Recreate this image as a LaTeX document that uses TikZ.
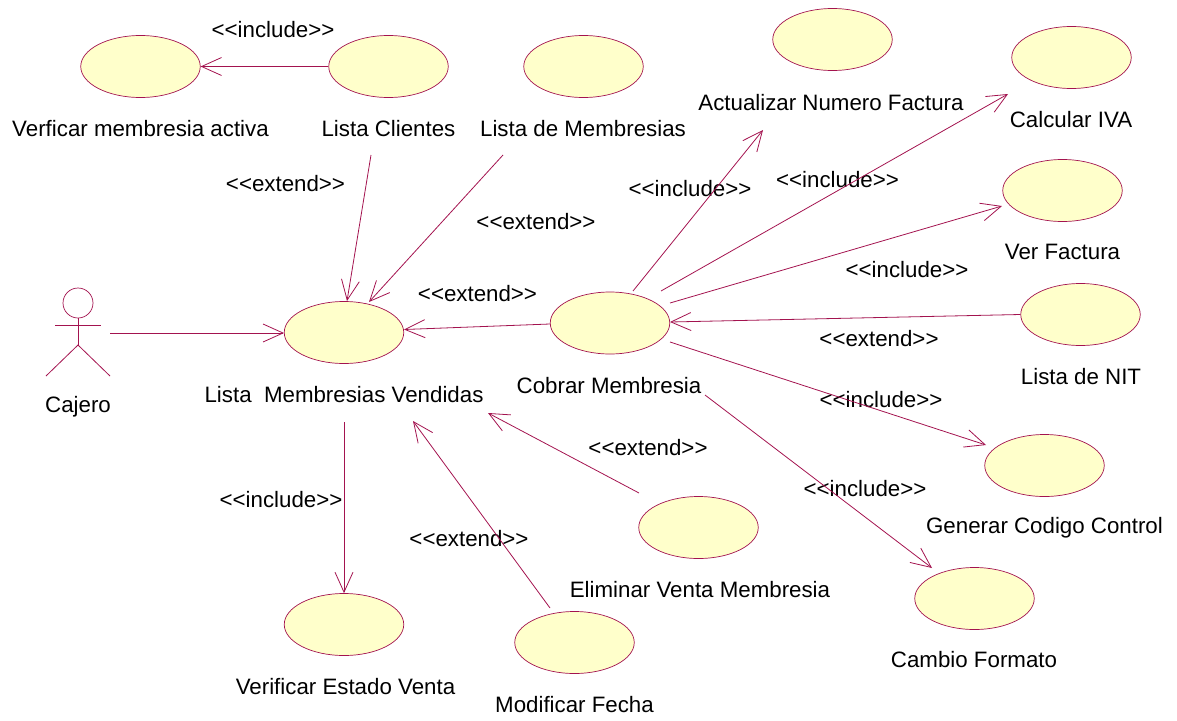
\documentclass[tikz,border=0pt]{standalone}
\usepackage{fontspec}
\setmainfont{Liberation Sans}
\usetikzlibrary{arrows.meta,shapes.geometric}
\definecolor{umlline}{HTML}{A3134F}
\definecolor{umlfill}{HTML}{FFFFCB}
\tikzset{
  usecase/.style={ellipse,draw=umlline,fill=umlfill,line width=0.7pt,minimum width=119.5pt,minimum height=62pt,inner sep=0pt},
  lbl/.style={inner sep=0pt,font=\fontsize{22.3}{26}\selectfont,text=black,anchor=center},
  conn/.style={draw=umlline,line width=0.8pt,-{Straight Barb[length=20pt,width=18pt,line width=0.8pt]}},
  stick/.style={draw=umlline,line width=0.8pt}
}
\begin{document}
\begin{tikzpicture}[x=1pt,y=-1pt]
\useasboundingbox (0,0) rectangle (1177,720);
% use cases
\node[usecase] (verf) at (140.5,66.5) {};
\node[usecase] (clientes) at (388.5,66.5) {};
\node[usecase] (membresias) at (583.5,66.5) {};
\node[usecase] (actualizar) at (832.5,39.5) {};
\node[usecase] (iva) at (1071.5,57.5) {};
\node[usecase] (factura) at (1062.5,190.5) {};
\node[usecase] (nit) at (1080.5,314.5) {};
\node[usecase] (codigo) at (1044.5,465.5) {};
\node[usecase] (formato) at (974.5,598.5) {};
\node[usecase] (cobrar) at (610,323) {};
\node[usecase] (vendidas) at (344,332.5) {};
\node[usecase] (eliminar) at (698.5,527.5) {};
\node[usecase] (fecha) at (574.5,642.5) {};
\node[usecase] (estado) at (344,624.5) {};
% actor
\node[circle,draw=umlline,fill=white,line width=0.7pt,minimum size=30pt,inner sep=0pt] (head) at (78,303) {};
\coordinate (hip) at (78,345);
\coordinate (armL) at (55,325);
\coordinate (armR) at (101,325);
\coordinate (legL) at (46,376);
\coordinate (legR) at (110,376);
\draw[stick] (head.south) -- (hip);
\draw[stick] (armL) -- (armR);
\draw[stick] (legL) -- (hip) -- (legR);
% labels
\node[lbl] (t1) at (140.5,128.5) {Verficar membresia activa};
\node[lbl] (t2) at (388.5,128.5) {Lista Clientes};
\node[lbl] (t3) at (583,128.5) {Lista de Membresias};
\node[lbl] (t4) at (831,102.5) {Actualizar Numero Factura};
\node[lbl] (t5) at (1071,119.5) {Calcular IVA};
\node[lbl] (t6) at (1062.5,252) {Ver Factura};
\node[lbl] (t7) at (1081,377) {Lista de NIT};
\node[lbl] (t8) at (1044.5,528) {Generar Codigo Control};
\node[lbl] (t9) at (974,660) {Cambio Formato};
\node[lbl] (t10) at (609,386) {Cobrar Membresia};
\node[lbl] (t11) at (344,394.5) {Lista\ \ Membresias Vendidas};
\node[lbl] (t12) at (700,590) {Eliminar Venta Membresia};
\node[lbl] (t13) at (574.5,705) {Modificar Fecha};
\node[lbl] (t14) at (345.5,687) {Verificar Estado Venta};
\node[lbl] (t15) at (78,407) {Cajero};
\node[lbl] (s1) at (273,30) {<{}<include>{}>};
\node[lbl] (s2) at (285.5,184) {<{}<extend>{}>};
\node[lbl] (s3) at (536,222) {<{}<extend>{}>};
\node[lbl] (s4) at (477.5,294) {<{}<extend>{}>};
\node[lbl] (s5) at (690,189) {<{}<include>{}>};
\node[lbl] (s6) at (837.5,180) {<{}<include>{}>};
\node[lbl] (s7) at (907,270) {<{}<include>{}>};
\node[lbl] (s8) at (879,339) {<{}<extend>{}>};
\node[lbl] (s9) at (881,400) {<{}<include>{}>};
\node[lbl] (s10) at (865,489) {<{}<include>{}>};
\node[lbl] (s11) at (648,448) {<{}<extend>{}>};
\node[lbl] (s12) at (469,539) {<{}<extend>{}>};
\node[lbl] (s13) at (281,500) {<{}<include>{}>};
% free connector ends
\coordinate (a1) at (110,333);
\coordinate (a2) at (371,155);
\coordinate (a3) at (503,155);
\coordinate (a4) at (633,291);
\coordinate (a5) at (661,291);
\coordinate (a6) at (670,303);
\coordinate (a7) at (670,342);
\coordinate (a8) at (705,395);
\coordinate (a9) at (639,493);
\coordinate (a10) at (550,608);
\coordinate (a11) at (344,422);
\coordinate (a12) at (550,324);
\coordinate (b1) at (347,301);
\coordinate (b2) at (369,302);
\coordinate (b3) at (763,130);
\coordinate (b4) at (1008,94);
\coordinate (b5) at (1002,206);
\coordinate (b6) at (986,445);
\coordinate (b7) at (932,568);
\coordinate (b8) at (488,413);
\coordinate (b9) at (413,421);
\coordinate (b10) at (404,329.5);
\coordinate (b11) at (670,322);
\coordinate (b12) at (284,333);
% connectors
\draw[conn] (clientes.west) -- (verf.east);
\draw[conn] (a1) -- (b12);
\draw[conn] (a2) -- (b1);
\draw[conn] (a3) -- (b2);
\draw[conn] (a12) -- (b10);
\draw[conn] (a4) -- (b3);
\draw[conn] (a5) -- (b4);
\draw[conn] (a6) -- (b5);
\draw[conn] (nit.west) -- (b11);
\draw[conn] (a7) -- (b6);
\draw[conn] (a8) -- (b7);
\draw[conn] (a9) -- (b8);
\draw[conn] (a10) -- (b9);
\draw[conn] (a11) -- (estado.north);
\end{tikzpicture}
\end{document}
